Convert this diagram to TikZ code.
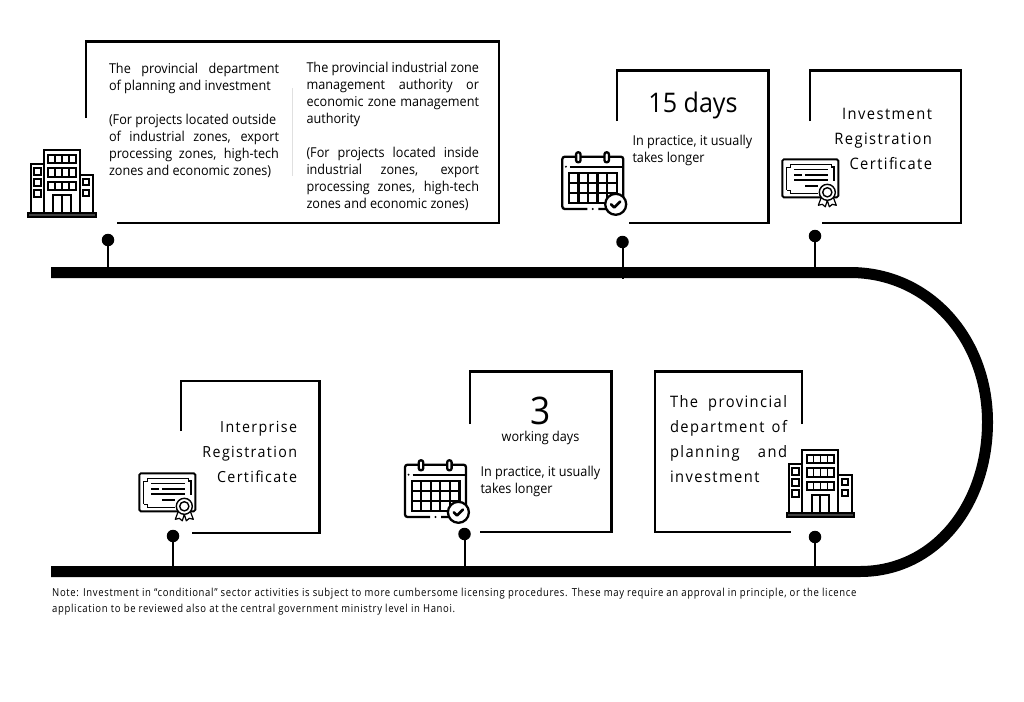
\documentclass[tikz,border=0pt]{standalone}
\usepackage{fontspec}
\setmainfont[FakeStretch=0.93]{Open Sans}
\newfontfamily\spaced[FakeStretch=0.93,LetterSpace=9]{Open Sans}
\newfontfamily\notefont[FakeStretch=0.865,LetterSpace=6]{Open Sans}
\newcommand{\jA}[1]{\makebox[170pt][s]{#1}}
\newcommand{\jB}[1]{\makebox[172.5pt][s]{#1}}
\newcommand{\jC}[1]{\makebox[117pt][s]{#1}}
\tikzset{
  frame/.style={draw=black,line width=2.2pt,line cap=butt,line join=miter},
  track/.style={draw=black,line width=11pt},
  stem/.style={draw=black,line width=2pt},
  dotnode/.style={circle,fill=black,inner sep=0pt,minimum size=12.5pt},
  body/.style={inner sep=0pt,outer sep=0pt,font=\fontsize{13.6}{17}\selectfont,align=left,anchor=north west},
  big/.style={inner sep=0pt,outer sep=0pt,font=\spaced\fontsize{15.8}{25}\selectfont,align=right,anchor=north east},
  bigleft/.style={big,align=left,anchor=north west},
  building/.pic={
    \begin{scope}[line width=1.9pt,draw=black]
      \fill[black!75] (0,62.7) rectangle (67.7,67.3);
      \draw (0,62.7) rectangle (67.7,67.3);
      \draw (15.7,62.7) -- (15.7,0) -- (51.7,0) -- (51.7,62.7);
      \draw (15.7,14) -- (2.4,14) -- (2.4,62.7);
      \draw (51.7,25) -- (65,25) -- (65,62.7);
      \foreach \a/\b in {5/13,18.3/26.7,31.7/40}{
        \draw (20,\a) rectangle (47.7,\b);
        \foreach \c in {26.9,33.85,40.8}{\draw[line width=1.6pt] (\c,\a) -- (\c,\b);}
      }
      \foreach \a/\b in {18/25,29/35.7,40/46.7}{\draw (5.7,\a) rectangle (12.4,\b);}
      \foreach \a/\b in {29.3/35,40/45.7}{\draw (55,\a) rectangle (61,\b);}
      \draw (25,62.7) -- (25,45) -- (42.4,45) -- (42.4,62.7);
      \draw (33.7,45) -- (33.7,62.7);
    \end{scope}
  },
  calendar/.pic={
    \begin{scope}[line width=2.3pt,draw=black]
      \draw[rounded corners=2.5pt] (25,56.7) -- (0,56.7) -- (0,4.4) -- (61,4.4) -- (61,56.7) -- (36,56.7);
      \fill (30.5,56.7) circle (1.1);
      \draw[fill=white,rounded corners=2pt] (13.8,0) rectangle (18.2,10);
      \draw[fill=white,rounded corners=2pt] (42.2,0) rectangle (46.6,10);
      \fill (3.6,14.4) circle (1.1);
      \draw (7.5,14.4) -- (60,14.4);
      \draw (6.7,21) rectangle (54.4,51);
      \foreach \c in {16.2,25.8,35.3,44.8}{\draw (\c,21) -- (\c,51);}
      \foreach \c in {31,41}{\draw (6.7,\c) -- (54.4,\c);}
      \draw[fill=white] (53.4,52) circle (10.5);
      \draw[line width=2.6pt,line cap=round,line join=round] (48.8,52) -- (52,55.2) -- (58,49.2);
    \end{scope}
  },
  certificate/.pic={
    \begin{scope}[draw=black]
      \draw[line width=1.9pt,rounded corners=1.5pt] (0,0) rectangle (56,38);
      \draw[line width=1.1pt] (8,5) -- (49,5) -- (49,7.7) -- (51.7,7.7) -- (51.7,22) (4.5,8) -- (4.5,31)
        (4.5,8) -- (8,8) -- (8,5) (4.5,31) -- (8,31) -- (8,34) -- (36,34);
      \draw[line width=1.4pt] (12,10) -- (46,10) (12,15.7) -- (19.5,15.7) (22.5,15.7) -- (46,15.7)
        (12,20.7) -- (46,20.7) (23,26.7) -- (36,26.7);
      \draw[line width=1.2pt,fill=white,line join=round] (39,38) -- (36,46) -- (40,45) -- (43,47.5) -- (45,41) -- (47,47.5) -- (50,45) -- (54,46) -- (51,38) -- cycle;
      \draw[line width=1.4pt,fill=white] (45,33) circle (8);
      \draw[line width=1.4pt] (45,33) circle (4.6);
    \end{scope}
  }
}
\begin{document}
\begin{tikzpicture}[x=1pt,y=-1pt]
\useasboundingbox (0,0) rectangle (1024,701);
\fill[white] (0,0) rectangle (1024,701);

% track
\draw[track] (51,272.5) -- (850,272.5)
  .. controls (930,272.5) and (987.5,340) .. (987.5,422)
  .. controls (987.5,505) and (935,571.5) .. (860,571.5) -- (51,571.5);

% track anchor points
\coordinate (t1) at (108,272.5);
\coordinate (t2) at (622.5,279);
\coordinate (t3) at (815,272.5);
\coordinate (t4) at (173,571.5);
\coordinate (t5) at (464.5,571.5);
\coordinate (t6) at (815,571.5);

% dots
\node[dotnode] (d1) at (108,240) {};
\node[dotnode] (d2) at (622.5,242) {};
\node[dotnode] (d3) at (815,236) {};
\node[dotnode] (d4) at (173,536) {};
\node[dotnode] (d5) at (464.5,534) {};
\node[dotnode] (d6) at (815,537) {};
\foreach \n in {1,...,6}{\draw[stem] (d\n) -- (t\n);}

% frames
\draw[frame] (86,118) -- (86,41.5) -- (499,41.5) -- (499,223) -- (117,223);
\draw[frame] (617,121) -- (617,70.5) -- (768.5,70.5) -- (768.5,223) -- (629,223);
\draw[frame] (810,121) -- (810,70.5) -- (961,70.5) -- (961,223) -- (822,223);
\draw[frame] (181,431) -- (181,381) -- (319.5,381) -- (319.5,533) -- (192,533);
\draw[frame] (470,424) -- (470,371.5) -- (611.5,371.5) -- (611.5,532) -- (480,532);
\draw[frame] (802,424) -- (802,371.5) -- (655,371.5) -- (655,532) -- (791,532);
\draw[black!12,line width=0.6pt] (292.7,88) -- (292.7,176);

% icons
\pic at (28.3,150) {building};
\pic at (786.7,450) {building};
\pic at (562.3,152.3) {calendar};
\pic at (405,460.3) {calendar};
\pic at (782.3,159.3) {certificate};
\pic at (139.3,473.3) {certificate};

% box 1 text
\node[body] (c1a) at (109,63) {\jA{The provincial department}\\of planning and investment};
\node[body] (c1b) at (109,114) {(For projects located outside\\\jA{of industrial zones, export}\\\jA{processing zones, high-tech}\\zones and economic zones)};
\node[body] (c2a) at (306.5,62) {\jB{The provincial industrial zone}\\\jB{management authority or}\\\jB{economic zone management}\\authority};
\node[body] (c2b) at (306.5,147) {\jB{(For projects located inside}\\\jB{industrial zones, export}\\\jB{processing zones, high-tech}\\zones and economic zones)};

% box 2 text
\node[inner sep=0pt,anchor=base,font=\fontsize{27}{30}\selectfont] (d15) at (693,112) {15 days};
\node[body] (p1) at (632.5,135) {In practice, it usually\\takes longer};

% box 3 text
\node[big] (irc) at (932,108) {Investment\\Registration\\Certificate};

% box 4 text
\node[big,font=\spaced\fontsize{15.3}{25}\selectfont] (erc) at (297,421) {Interprise\\Registration\\Certificate};

% box 5 text
\node[inner sep=0pt,anchor=base,font=\fontsize{38}{40}\selectfont] (n3) at (540.5,424) {3};
\node[inner sep=0pt,anchor=base,font=\fontsize{13.6}{17}\selectfont] (wd) at (540.5,441) {working days};
\node[body] (p2) at (480.5,466) {In practice, it usually\\takes longer};

% box 6 text
\node[bigleft] (dpi) at (670,395.5) {\jC{The provincial}\\\jC{department of}\\\jC{planning and}\\investment};

% note
\node[inner sep=0pt,anchor=north west,align=left,font=\notefont\fontsize{11}{16}\selectfont] (note) at (52,588)
  {Note: Investment in “conditional” sector activities is subject to more cumbersome licensing procedures. These may require an approval in principle, or the licence\\application to be reviewed also at the central government ministry level in Hanoi.};
\end{tikzpicture}
\end{document}
